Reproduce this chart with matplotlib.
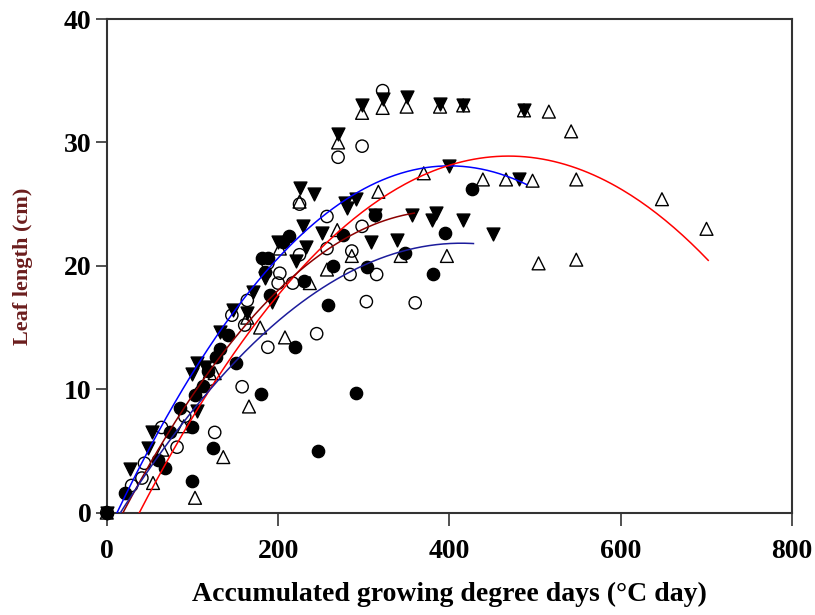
import numpy as np
import matplotlib
matplotlib.use("Agg")
import matplotlib.pyplot as plt

# leaf length (cm) against accumulated growing degree days, four treatments
fc_x = [0, 21, 60, 68, 74, 85, 99, 103, 99, 112, 118, 124, 128, 132, 141, 151, 180, 181, 188, 185,
        190, 206, 213, 220, 230, 246, 258, 264, 276, 291, 304, 313, 348, 381, 395, 426]
fc_y = [0, 1.6, 4.3, 3.6, 6.5, 8.5, 6.9, 9.5, 2.6, 10.3, 11.5, 5.2, 12.6, 13.3, 14.4, 12.1, 9.6, 20.6, 20.6, 19.5,
        17.6, 21.9, 22.4, 13.4, 18.8, 5.0, 16.8, 20.0, 22.5, 9.7, 19.9, 24.1, 21.0, 19.3, 22.7, 26.2]

oc_x = [0, 29, 41, 44, 64, 82, 91, 110, 120, 126, 146, 158, 161, 164, 188, 188, 200, 202, 217, 225,
        225, 245, 257, 257, 270, 284, 286, 298, 298, 303, 315, 322, 360]
oc_y = [0, 2.2, 2.8, 4.0, 6.9, 5.3, 7.8, 9.8, 10.8, 6.5, 16.0, 10.2, 15.2, 17.2, 13.4, 20.2, 18.6, 19.4, 18.6, 20.9,
        25.0, 14.5, 24.0, 21.4, 28.8, 19.3, 21.2, 29.7, 23.2, 17.1, 19.3, 34.2, 17.0]

dt_x = [0, 27, 48, 53, 99, 105, 105, 115, 132, 147, 164, 171, 185, 193, 200, 221, 225, 229, 232, 242,
        251, 270, 278, 280, 291, 298, 308, 313, 322, 339, 350, 356, 380, 384, 389, 400, 416, 416, 451, 481, 487]
dt_y = [0, 3.5, 5.2, 6.5, 11.2, 12.1, 8.2, 11.8, 14.6, 16.4, 16.2, 17.9, 19.0, 17.1, 21.9, 20.4, 26.3, 23.2, 21.5, 25.8,
        22.7, 30.7, 25.1, 24.7, 25.4, 33.0, 21.9, 24.1, 33.5, 22.1, 33.7, 24.1, 23.7, 24.3, 33.1, 28.1, 23.7, 33.0, 22.6, 27.0, 32.6]

ut_x = [0, 54, 65, 90, 103, 126, 136, 164, 166, 179, 202, 208, 225, 237, 257, 269, 270, 286, 298, 317,
        322, 343, 350, 370, 389, 397, 416, 439, 466, 487, 497, 504, 516, 542, 548, 548, 648, 700]
ut_y = [0, 2.4, 5.1, 7.0, 1.2, 11.3, 4.5, 15.8, 8.6, 15.0, 21.4, 14.2, 25.2, 18.6, 19.7, 22.9, 30.0, 20.8, 32.4, 26.0,
        32.8, 20.8, 32.9, 27.5, 32.9, 20.8, 33.0, 27.0, 27.0, 32.6, 26.9, 20.2, 32.5, 30.9, 27.0, 20.5, 25.4, 23.0]

# quadratic fits: (c2, c1, c0), x range
fits = [
    ((-1.867e-4, 0.14936, -1.77), (12, 490), "#0000ff"),
    ((-1.556e-4, 0.14595, -5.33), (38, 702), "#ff0000"),
    ((-1.77e-4, 0.1383, -2.564), (19, 359), "#8b0000"),
    ((-1.38e-4, 0.1142, -1.792), (16, 428), "#1c1c9c"),
]

xticks = [0, 200, 400, 600, 800]
yticks = [0, 10, 20, 30, 40]

fig = plt.figure(figsize=(8.15, 6.15), dpi=100)
ax = fig.add_axes([0.131, 0.1665, 0.841, 0.8025])

ms = 78
ax.scatter(fc_x, fc_y, s=ms, marker="o", facecolor="black", edgecolor="black", linewidths=1, zorder=3, clip_on=False)
ax.scatter(oc_x, oc_y, s=ms, marker="o", facecolor="none", edgecolor="black", linewidths=1, zorder=3, clip_on=False)
ax.scatter(dt_x, dt_y, s=ms * 1.1, marker="v", facecolor="black", edgecolor="black", linewidths=1, zorder=3, clip_on=False)
ax.scatter(ut_x, ut_y, s=ms * 1.1, marker="^", facecolor="none", edgecolor="black", linewidths=1, zorder=3, clip_on=False)

for coef, (x0, x1), col in fits:
    xx = np.linspace(x0, x1, 200)
    ax.plot(xx, np.polyval(coef, xx), color=col, lw=1.1, zorder=4)

ax.set_xlim(0, 800)
ax.set_ylim(0, 40)
ax.set_xticks(xticks)
ax.set_yticks(yticks)

tickfont = dict(family="Liberation Serif", weight="bold", size=20)
ax.set_xticklabels([str(t) for t in xticks], **tickfont)
ax.set_yticklabels([str(t) for t in yticks], **tickfont)
ax.tick_params(axis="x", direction="out", length=9, width=1.2, pad=10, colors="#333333", labelcolor="black")
ax.tick_params(axis="y", direction="out", length=8, width=1.2, pad=3, colors="#333333", labelcolor="black")

for sp in ax.spines.values():
    sp.set_color("#333333")
    sp.set_linewidth(1.5)

ax.set_xlabel("Accumulated growing degree days (\u00b0C day)", family="Liberation Serif",
              weight="bold", size=20, labelpad=13)
ax.set_ylabel("Leaf length (cm)", family="Liberation Serif", weight="bold", size=16,
              color="#6b1d1d", labelpad=22)

fig.savefig("out.png", dpi=100)
